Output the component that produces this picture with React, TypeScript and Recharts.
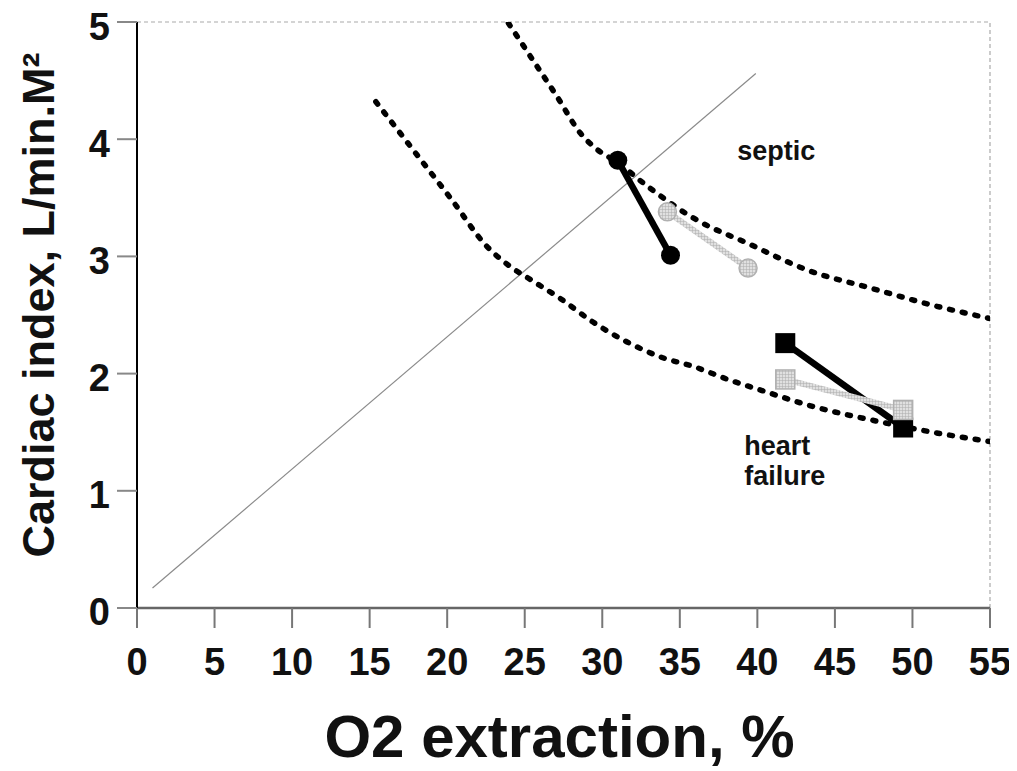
import React from 'react';
import { ComposedChart, Line, Scatter, XAxis, YAxis, ReferenceLine } from 'recharts';

const xTicks = [0, 5, 10, 15, 20, 25, 30, 35, 40, 45, 50, 55];
const yTicks = [0, 1, 2, 3, 4, 5];

const identityLine = [
  { x: 1.0, y: 0.17 },
  { x: 39.9, y: 4.56 },
];

const septicBound = [
  { x: 23.95, y: 4.99 }, { x: 25.0, y: 4.78 }, { x: 27.1, y: 4.36 }, { x: 28.6, y: 4.05 },
  { x: 29.5, y: 3.93 }, { x: 31.0, y: 3.8 }, { x: 32.9, y: 3.6 }, { x: 36.1, y: 3.31 },
  { x: 39.4, y: 3.11 }, { x: 43.3, y: 2.88 }, { x: 47.3, y: 2.73 }, { x: 51.1, y: 2.59 },
  { x: 55.0, y: 2.47 },
];

const heartFailureBound = [
  { x: 15.4, y: 4.32 }, { x: 17.8, y: 3.91 }, { x: 20.2, y: 3.5 }, { x: 22.6, y: 3.08 },
  { x: 24.1, y: 2.91 }, { x: 25.4, y: 2.8 }, { x: 27.3, y: 2.64 }, { x: 29.4, y: 2.44 },
  { x: 31.6, y: 2.27 }, { x: 33.8, y: 2.14 }, { x: 35.9, y: 2.06 }, { x: 38.1, y: 1.95 },
  { x: 40.2, y: 1.86 }, { x: 43.3, y: 1.73 }, { x: 47.5, y: 1.6 }, { x: 51.3, y: 1.5 },
  { x: 55.0, y: 1.42 },
];

const septicBlack = [{ x: 31.0, y: 3.82 }, { x: 34.4, y: 3.01 }];
const septicGray = [{ x: 34.2, y: 3.38 }, { x: 39.4, y: 2.9 }];
const hfBlack = [{ x: 41.8, y: 2.26 }, { x: 49.4, y: 1.54 }];
const hfGray = [{ x: 41.8, y: 1.95 }, { x: 49.4, y: 1.69 }];

const annotations = [
  { x: 38.7, y: 3.82, text: 'septic' },
  { x: 39.15, y: 1.305, text: 'heart' },
  { x: 39.15, y: 1.05, text: 'failure' },
];

const xTitle = 'O2 extraction, %';
const yTitle = 'Cardiac index, L/min.M²';

const FONT = '"Liberation Sans", Arial, Helvetica, sans-serif';

const XTick = (props: any) => {
  const { x, y, payload } = props;
  return (
    <text x={x} y={y} dy="0.71em" textAnchor="middle" fontFamily={FONT} fontWeight="bold" fontSize={38} fill="#111">
      {payload.value}
    </text>
  );
};

const YTick = (props: any) => {
  const { x, y, payload } = props;
  return (
    <text x={x} y={y + 4} dy="0.355em" textAnchor="end" fontFamily={FONT} fontWeight="bold" fontSize={38} fill="#111">
      {payload.value}
    </text>
  );
};

const XTitle = (props: any) => {
  const vb = props.viewBox || {};
  const cx = vb.x + vb.width / 2 - 4;
  return (
    <text x={cx} y={749} textAnchor="middle" fontFamily={FONT} fontWeight="bold" fontSize={60} fill="#111">
      {xTitle}
    </text>
  );
};

const YTitle = () => {
  const cx = 46;
  const cy = 297;
  return (
    <text x={cx} y={cy} transform={`rotate(-90 ${cx} ${cy})`} textAnchor="middle" fontFamily={FONT} fontWeight="bold" fontSize={45} fill="#111">
      {yTitle}
    </text>
  );
};

const blackCircle = (p: any) => <circle key={`bc${p.index}`} cx={p.cx} cy={p.cy} r={9.5} fill="#000" />;
const grayCircle = (p: any) => (
  <circle key={`gc${p.index}`} cx={p.cx} cy={p.cy} r={9} fill="url(#hatch)" stroke="#b0b0b0" strokeWidth={1.5} />
);
const blackSquare = (p: any) => <rect key={`bs${p.index}`} x={p.cx - 10} y={p.cy - 10} width={20} height={20} fill="#000" />;
const graySquare = (p: any) => (
  <rect key={`gs${p.index}`} x={p.cx - 9.5} y={p.cy - 9.5} width={19} height={19} fill="url(#hatch)" stroke="#b0b0b0" strokeWidth={1.5} />
);

const AnnotationShape = (p: any) => (
  <text x={p.cx} y={p.cy} fontFamily={FONT} fontWeight="bold" fontSize={27} fill="#111">
    {p.payload.text}
  </text>
);

export default function App() {
  return (
    <ComposedChart width={1009} height={763} margin={{ top: 14, right: 27, bottom: 0, left: 0 }}>
      <defs>
        <pattern id="hatch" width="3" height="3" patternUnits="userSpaceOnUse">
          <rect width="3" height="3" fill="#e0e0e0" />
          <path d="M0 0 L3 0 M0 0 L0 3" stroke="#acacac" strokeWidth="1" />
        </pattern>
      </defs>
      <XAxis
        type="number"
        dataKey="x"
        domain={[0, 55]}
        ticks={xTicks}
        interval={0}
        allowDataOverflow
        height={163}
        tickSize={20}
        tickMargin={20}
        axisLine={{ stroke: '#666', strokeWidth: 2.5 }}
        tickLine={{ stroke: '#777', strokeWidth: 2 }}
        tick={<XTick />}
        label={<XTitle />}
      />
      <YAxis
        type="number"
        dataKey="y"
        domain={[0, 5]}
        ticks={yTicks}
        interval={0}
        allowDataOverflow
        width={129}
        tickSize={20}
        tickMargin={7}
        axisLine={{ stroke: '#000', strokeWidth: 2 }}
        tickLine={{ stroke: '#888', strokeWidth: 2 }}
        tick={<YTick />}
        label={<YTitle />}
      />
      <ReferenceLine y={5} stroke="#aaa" strokeWidth={1.2} strokeDasharray="4 3" />
      <ReferenceLine x={55} stroke="#aaa" strokeWidth={1.2} strokeDasharray="4 3" />
      <Line data={identityLine} dataKey="y" type="linear" stroke="#8a8a8a" strokeWidth={1.2} dot={false} activeDot={false} isAnimationActive={false} />
      <Line data={septicBound} dataKey="y" type="monotone" stroke="#000" strokeWidth={5.5} strokeDasharray="3 10" strokeLinecap="round" dot={false} activeDot={false} isAnimationActive={false} />
      <Line data={heartFailureBound} dataKey="y" type="monotone" stroke="#000" strokeWidth={5.5} strokeDasharray="3 10" strokeLinecap="round" dot={false} activeDot={false} isAnimationActive={false} />
      <Line data={septicBlack} dataKey="y" type="linear" stroke="#000" strokeWidth={6.5} dot={blackCircle} activeDot={false} isAnimationActive={false} />
      <Line data={hfBlack} dataKey="y" type="linear" stroke="#000" strokeWidth={6.5} dot={blackSquare} activeDot={false} isAnimationActive={false} />
      <Line data={septicGray} dataKey="y" type="linear" stroke="url(#hatch)" strokeWidth={6} dot={grayCircle} activeDot={false} isAnimationActive={false} />
      <Line data={hfGray} dataKey="y" type="linear" stroke="url(#hatch)" strokeWidth={6} dot={graySquare} activeDot={false} isAnimationActive={false} />
      <Scatter data={annotations} dataKey="y" shape={AnnotationShape} isAnimationActive={false} />
    </ComposedChart>
  );
}
